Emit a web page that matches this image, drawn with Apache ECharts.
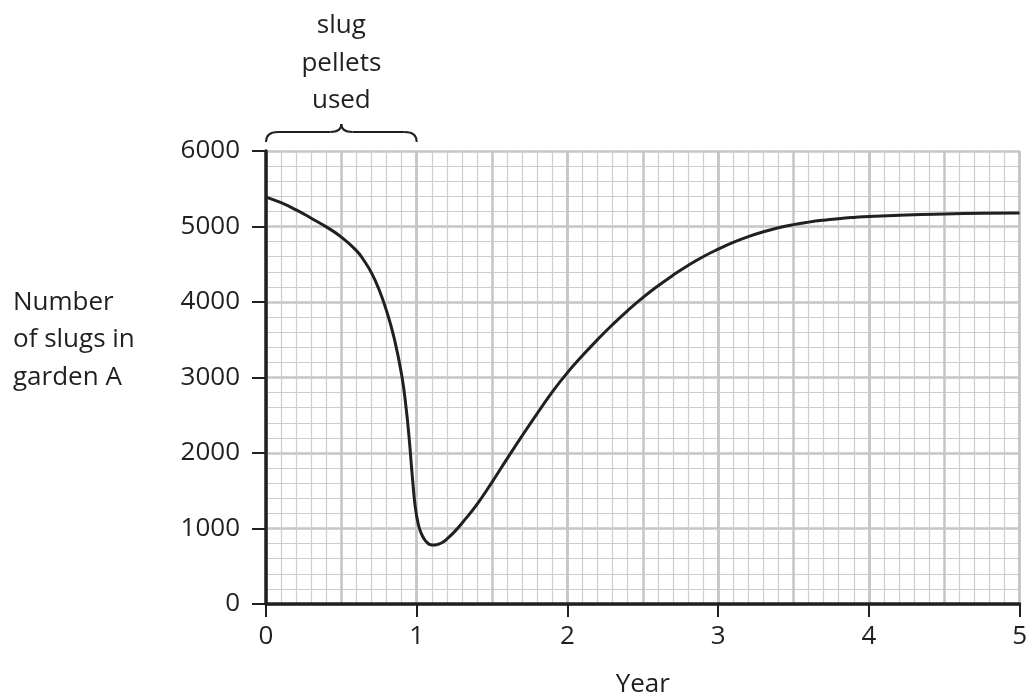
<!DOCTYPE html>
<html>
<head>
<meta charset="utf-8">
<script src="https://cdn.jsdelivr.net/npm/echarts@6/dist/echarts.min.js"></script>
<style>
  html, body { margin: 0; padding: 0; background: #fff; }
  #chart { width: 1030px; height: 697px; }
</style>
</head>
<body>
<div id="chart"></div>
<script>
// years since start
const years = [0, 0.1, 0.2, 0.3, 0.4, 0.5, 0.6, 0.65, 0.7, 0.75, 0.8, 0.85, 0.9, 0.93, 0.95, 0.97, 0.99, 1.01, 1.03, 1.05, 1.07, 1.09, 1.11, 1.14, 1.17, 1.2, 1.25, 1.3, 1.4, 1.5, 1.6, 1.7, 1.8, 1.9, 2.0, 2.1, 2.2, 2.3, 2.4, 2.5, 2.6, 2.7, 2.8, 2.9, 3.0, 3.1, 3.2, 3.3, 3.4, 3.5, 3.6, 3.7, 3.8, 3.9, 4.0, 4.25, 4.5, 4.75, 5.0];
// number of slugs in garden A
const slugs = [5390, 5315, 5220, 5110, 4995, 4860, 4680, 4550, 4385, 4165, 3880, 3525, 3035, 2590, 2190, 1710, 1290, 1060, 935, 860, 812, 786, 780, 790, 815, 860, 955, 1070, 1320, 1615, 1925, 2230, 2525, 2810, 3065, 3290, 3502, 3702, 3887, 4057, 4212, 4354, 4484, 4600, 4700, 4790, 4866, 4930, 4983, 5025, 5058, 5084, 5104, 5120, 5133, 5153, 5166, 5175, 5180];

const yAxisTitle = ['Number', 'of slugs in', 'garden A'];
const xAxisTitle = 'Year';
const noteLines = ['slug', 'pellets', 'used'];
const pelletsPeriod = [0, 1]; // years

const ink = '#231f20';
const font = '"Open Sans", "Noto Sans", sans-serif';
const fontSize = 26;
const majorGrid = { color: '#c6c6ca', width: 2.5 };
const minorGrid = { color: '#cdcdd1', width: 1.2 };

const chart = echarts.init(document.getElementById('chart'));

chart.setOption({
  animation: false,
  grid: { left: 266, right: 9, top: 151, bottom: 93, containLabel: false },
  xAxis: [
    {
      type: 'value', min: 0, max: 5, interval: 1,
      axisLine: { show: true, onZero: false, lineStyle: { color: ink, width: 3.5 } },
      axisTick: { show: true, length: 13, lineStyle: { color: ink, width: 2 } },
      axisLabel: { color: ink, fontSize: fontSize, fontFamily: font, margin: 20 },
      splitLine: { show: true, lineStyle: majorGrid },
      minorTick: { show: false, splitNumber: 10 },
      minorSplitLine: { show: true, lineStyle: minorGrid }
    },
    {
      type: 'value', min: 0, max: 5, interval: 0.5,
      axisLine: { show: false },
      axisTick: { show: false },
      axisLabel: { show: false },
      splitLine: { show: true, lineStyle: majorGrid }
    }
  ],
  yAxis: {
    type: 'value', min: 0, max: 6000, interval: 1000,
    axisLine: { show: true, onZero: false, lineStyle: { color: ink, width: 3.5 } },
    axisTick: { show: true, length: 14, lineStyle: { color: ink, width: 2 } },
    axisLabel: { color: ink, fontSize: fontSize, fontFamily: font, margin: 26, formatter: v => String(v) },
    splitLine: { show: true, lineStyle: majorGrid },
    minorTick: { show: false, splitNumber: 5 },
    minorSplitLine: { show: true, lineStyle: minorGrid }
  },
  series: [{
    type: 'line',
    data: years.map((x, i) => [x, slugs[i]]),
    smooth: 0.5,
    symbol: 'none',
    lineStyle: { color: ink, width: 3 },
    z: 10
  }]
});

// annotations placed from the axis scales
const px = v => chart.convertToPixel({ xAxisIndex: 0 }, v);
const py = v => chart.convertToPixel({ yAxisIndex: 0 }, v);

const x0 = px(pelletsPeriod[0]);
const x1 = px(pelletsPeriod[1]);
const xm = (x0 + x1) / 2;
const gridTop = py(6000);
const yEnd = gridTop - 9, yBar = gridTop - 19, yPeak = gridTop - 27;

const braceStyle = { stroke: ink, lineWidth: 2, fill: null };
const curve = (ax, ay, cx, cy, bx, by) => ({
  type: 'bezierCurve',
  shape: { x1: ax, y1: ay, cpx1: cx, cpy1: cy, x2: bx, y2: by },
  style: braceStyle
});
const seg = (ax, ay, bx, by) => ({
  type: 'line',
  shape: { x1: ax, y1: ay, x2: bx, y2: by },
  style: braceStyle
});

const textStyle = { fill: ink, fontSize: fontSize, fontFamily: font };

const graphics = [
  curve(x0, yEnd, x0, yBar, x0 + 12, yBar),
  seg(x0 + 12, yBar, xm - 11, yBar),
  curve(xm - 11, yBar, xm, yBar, xm, yPeak),
  curve(xm, yPeak, xm, yBar, xm + 11, yBar),
  seg(xm + 11, yBar, x1 - 12, yBar),
  curve(x1 - 12, yBar, x1, yBar, x1, yEnd)
];
noteLines.forEach((t, i) => {
  graphics.push({
    type: 'text', x: xm, y: 26 + i * 37.5,
    style: Object.assign({ text: t, align: 'center', verticalAlign: 'middle' }, textStyle)
  });
});
yAxisTitle.forEach((t, i) => {
  graphics.push({
    type: 'text', x: 13, y: py(3500) - 37.5 + i * 37.5,
    style: Object.assign({ text: t, align: 'left', verticalAlign: 'middle' }, textStyle)
  });
});
graphics.push({
  type: 'text', x: px(2.5), y: 685,
  style: Object.assign({ text: xAxisTitle, align: 'center', verticalAlign: 'middle' }, textStyle)
});

chart.setOption({ graphic: graphics });
</script>
</body>
</html>
